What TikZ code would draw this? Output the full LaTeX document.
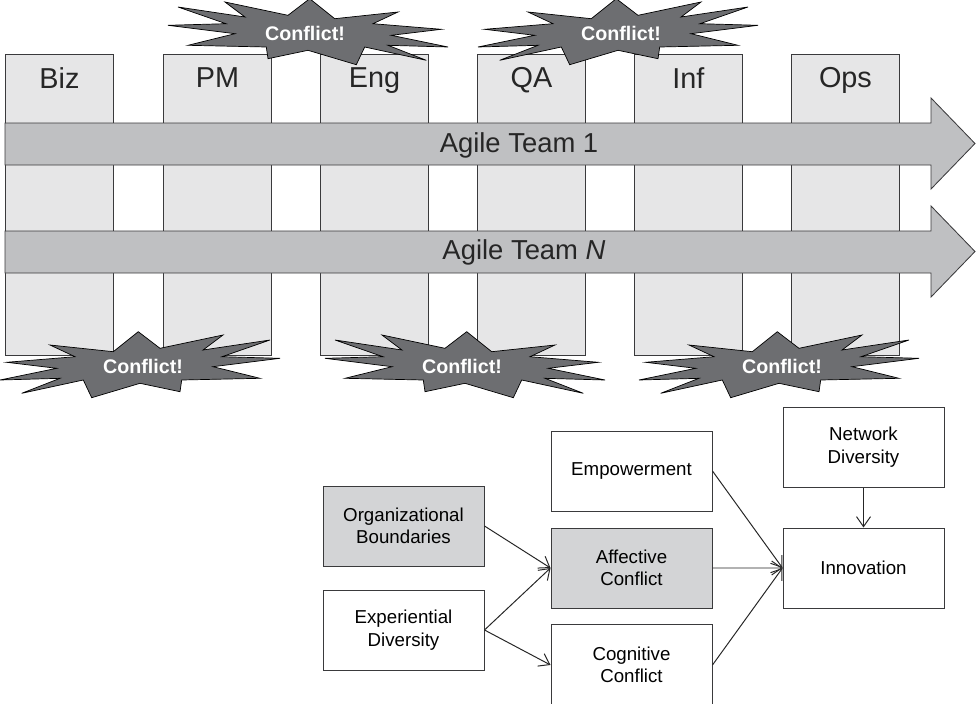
\documentclass[tikz,border=0pt]{standalone}
\usepackage{fontspec}
\setmainfont{Liberation Sans}
\usetikzlibrary{arrows.meta, positioning}
\definecolor{lineagris}{HTML}{3A3A3C}
\definecolor{carrilgris}{HTML}{E6E6E7}
\definecolor{flechagris}{HTML}{BFC0C2}
\definecolor{choquegris}{HTML}{6D6E71}
\definecolor{cajagris}{HTML}{D3D4D6}
\tikzset{
  carrilc/.style={rectangle, draw=lineagris, fill=carrilgris, minimum width=27mm,
                  minimum height=75.25mm, anchor=north west, inner sep=0pt, line width=0.6pt},
  carriltxt/.style={anchor=north, yshift=-2.2mm, font=\fontsize{20.5}{22}\selectfont, text=black!85},
  flechac/.style={draw=lineagris, fill=flechagris, line width=0.6pt},
  equipo/.style={font=\fontsize{19.5}{21}\selectfont, text=black!85},
  choquec/.style={draw=black, fill=choquegris, line join=miter, line width=0.5pt},
  choquetxt/.style={text=white, font=\bfseries\fontsize{14}{16}\selectfont, inner sep=1pt},
  cajab/.style={rectangle, draw=lineagris, fill=white, minimum width=40.25mm, line width=0.7pt,
                minimum height=20mm, align=center, font=\fontsize{13.3}{16}\selectfont},
  cajag/.style={cajab, fill=cajagris},
  conecta/.style={draw=black!85, line width=0.7pt, -{Straight Barb[length=2.5mm, width=3.5mm]}}
}

\begin{document}
\begin{tikzpicture}[x=0.25mm, y=-0.25mm]
  \useasboundingbox (0,0) rectangle (976,703);
  % carriles de funciones
  \foreach \nom/\px in {Biz/5, PM/163, Eng/320, QA/477, Inf/634, Ops/791}
    \node (col-\nom) [carrilc, label={[carriltxt]north:\nom}] at (\px,54) {};
  % flechas de equipos
  \draw [flechac] (5,123) -- (931,123) -- (931,98) -- (975,143.5) -- (931,189)
                  -- (931,165) -- (5,165) -- cycle;
  \draw [flechac] (5,231) -- (931,231) -- (931,206) -- (975,251.5) -- (931,297)
                  -- (931,273) -- (5,273) -- cycle;
  \node (team1) [equipo] at (519,145) {Agile Team 1};
  \node (teamN) [equipo] at (524,252) {Agile Team \textit{N}};
  % conflictos
  \foreach \nom/\cx/\cy/\sx in {c1/305/33/-1, c2/621/33/1, c3/143/366/1,
                                c4/462/366/-1, c5/782/366/1} {
    \draw [choquec, shift={(\cx,\cy)}, xscale=\sx]
      (-4.7,-34.3) -- (17,-17.7) -- (80,-31) -- (60,-16) -- (127,-26)
      -- (79,-9.3) -- (137,-7.7) -- (70,0.7) -- (117,12.3) -- (38.7,14)
      -- (37,25.7) -- (-3,17.3) -- (-51.3,31.7) -- (-59.7,14) -- (-121.3,27.3)
      -- (-83,12.3) -- (-143,14) -- (-86.3,2.3) -- (-136.3,-3.7) -- (-68,-9.3)
      -- (-93,-21) -- (-29.7,-14.3) -- cycle;
    \node (\nom) [choquetxt] at (\cx,\cy) {Conflict!};
  }
  % modelo
  \node (org) [cajag] at (403.5,526) {Organizational\\Boundaries};
  \node (exp) [cajab, below=5.75mm of org] {Experiential\\Diversity};
  \node (emp) [cajab] at (631.5,471) {Empowerment};
  \node (afe) [cajag, below=4mm of emp] {Affective\\Conflict};
  \node (cog) [cajab, below=4mm of afe] {Cognitive\\Conflict};
  \node (net) [cajab] at (863.5,447) {Network\\Diversity};
  \node (inn) [cajab, below=10mm of net] {Innovation};
  \draw [conecta] (org.east) -- (afe.west);
  \draw [conecta] (exp.east) -- (afe.west);
  \draw [conecta] (exp.east) -- (cog.west);
  \draw [conecta] (emp.east) -- (inn.west);
  \draw [conecta] (afe.east) -- (inn.west);
  \draw [conecta] (cog.east) -- (inn.west);
  \draw [conecta] (net) -- (inn);
\end{tikzpicture}
\end{document}
